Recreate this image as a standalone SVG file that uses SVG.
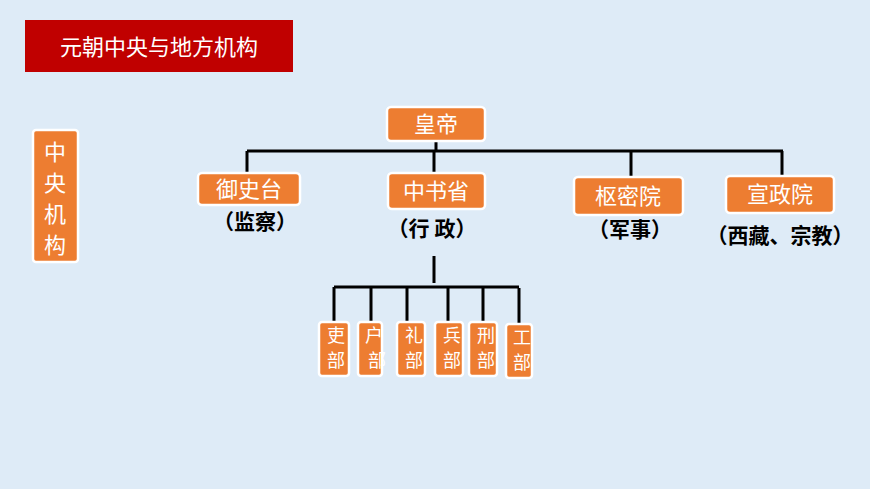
<svg xmlns="http://www.w3.org/2000/svg" width="870" height="489" viewBox="0 0 870 489">
<style>
.b{fill:#ed7d31;stroke:#fff;stroke-width:2.5}
.t{fill:#fff;font-family:"Noto Sans CJK SC",sans-serif;font-size:22px;text-anchor:middle}
.u{fill:#fff;font-family:"Noto Sans CJK SC",sans-serif;font-size:18px;text-anchor:middle}
.s{fill:#000;font-family:"Noto Sans CJK SC",serif;font-size:21px;text-anchor:middle;font-weight:bold}
.l{stroke:#000;stroke-width:3;fill:none}
</style>
<rect width="870" height="489" fill="#deebf7"/>
<g id="title"><rect x="25" y="20" width="268" height="52" fill="#c00000"/><text x="159" y="55" class="t" font-size="24">元朝中央与地方机构</text></g>
<g id="central"><rect class="b" x="33" y="130" width="45" height="132" rx="3"/><text class="t" x="55" y="160">中</text><text class="t" x="55" y="191">央</text><text class="t" x="55" y="222">机</text><text class="t" x="55" y="253">构</text></g>
<g id="connectors">
<path class="l" d="M436 141V151M247 151H783M247 151V173M434 151V173M631 151V177M782 151V176"/>
<path class="l" d="M434 256V283M334 287H519M334 287V322M371 288V322M407 288V322M448 288V322M483 288V322M519 288V324"/>
</g>
<g id="huangdi"><rect class="b" x="387" y="107" width="98" height="34" rx="4"/><text class="t" x="436" y="132">皇帝</text></g>
<g id="yushitai"><rect class="b" x="198" y="173" width="102" height="32" rx="4"/><text class="t" x="249" y="197">御史台</text><text class="s" x="255" y="229">（监察）</text></g>
<g id="zhongshu"><rect class="b" x="388" y="173" width="97" height="36" rx="4"/><text class="t" x="436" y="199">中书省</text><text class="s" x="432" y="236">（行 政）</text></g>
<g id="shumi"><rect class="b" x="574" y="177" width="109" height="38" rx="4"/><text class="t" x="628" y="204">枢密院</text><text class="s" x="630" y="237">（军事）</text></g>
<g id="xuanzheng"><rect class="b" x="726" y="176" width="108" height="37" rx="4"/><text class="t" x="780" y="202">宣政院</text><text class="s" x="780" y="243">（西藏、宗教）</text></g>
<g id="libu"><rect class="b" x="319" y="322" width="30" height="54" rx="3"/><text class="u" x="336" y="342">吏</text><text class="u" x="336" y="367">部</text></g>
<g id="hubu"><rect class="b" x="358" y="322" width="24" height="54" rx="3"/><text class="u" x="374" y="342">户</text><text class="u" x="377" y="367">部</text></g>
<g id="libu2"><rect class="b" x="397" y="322" width="28" height="54" rx="3"/><text class="u" x="414" y="342">礼</text><text class="u" x="414" y="367">部</text></g>
<g id="bingbu"><rect class="b" x="435" y="322" width="28" height="54" rx="3"/><text class="u" x="452" y="342">兵</text><text class="u" x="452" y="367">部</text></g>
<g id="xingbu"><rect class="b" x="469" y="322" width="28" height="54" rx="3"/><text class="u" x="486" y="342">刑</text><text class="u" x="486" y="367">部</text></g>
<g id="gongbu"><rect class="b" x="506" y="324" width="26" height="54" rx="3"/><text class="u" x="522" y="344">工</text><text class="u" x="522" y="369">部</text></g>
</svg>
